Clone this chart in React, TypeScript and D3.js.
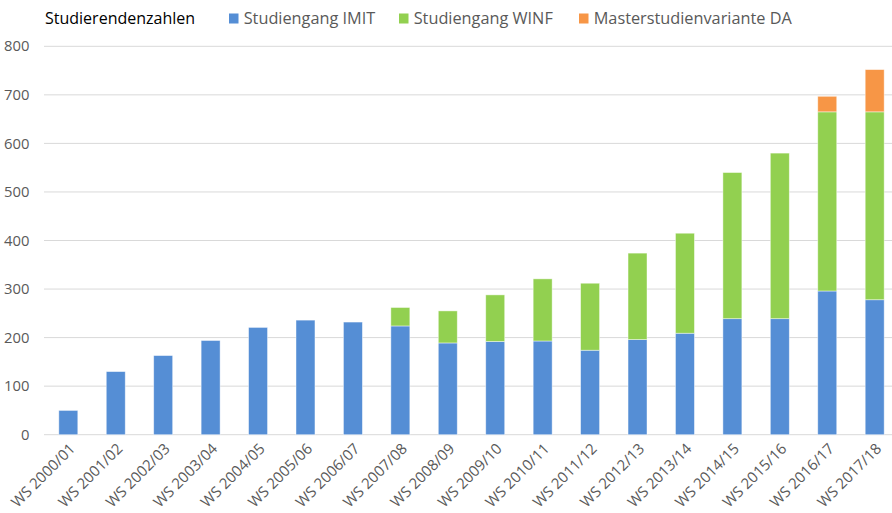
import * as d3 from 'd3';

const categories = [
  'WS 2000/01', 'WS 2001/02', 'WS 2002/03', 'WS 2003/04', 'WS 2004/05', 'WS 2005/06',
  'WS 2006/07', 'WS 2007/08', 'WS 2008/09', 'WS 2009/10', 'WS 2010/11', 'WS 2011/12',
  'WS 2012/13', 'WS 2013/14', 'WS 2014/15', 'WS 2015/16', 'WS 2016/17', 'WS 2017/18',
];
const imit = [50, 130, 163, 194, 221, 236, 232, 224, 189, 192, 193, 174, 196, 209, 239, 239, 296, 278];
const winf = [0, 0, 0, 0, 0, 0, 0, 38, 66, 96, 128, 138, 178, 206, 301, 341, 369, 387];
const da = [0, 0, 0, 0, 0, 0, 0, 0, 0, 0, 0, 0, 0, 0, 0, 0, 32, 87];
const yTicks = [0, 100, 200, 300, 400, 500, 600, 700, 800];

const seriesNames = ['Studiengang IMIT', 'Studiengang WINF', 'Masterstudienvariante DA'];
const colors = ['#558ED5', '#92D050', '#F79646'];

const W = 892;
const H = 513;
const font = 'Open Sans, sans-serif';

export default function App() {
  const rows = categories.map((c, i) => ({ cat: c, s0: imit[i], s1: winf[i], s2: da[i] }));
  const stack = d3.stack<any>().keys(['s0', 's1', 's2'])(rows);

  const x = d3.scaleBand().domain(categories).range([44.6, 898.4]).paddingInner(0.6).paddingOuter(0.3);
  const y = d3.scaleLinear().domain([0, 800]).range([434.7, 46.3]);

  // legend swatch positions
  const legendX = [229, 399, 579];

  return (
    <svg width={W} height={H} style={{ position: 'absolute', left: 0, top: 0, background: '#fff' }}
      fontFamily={font}>
      <rect width={W} height={H} fill="#fff" />
      {/* gridlines */}
      {yTicks.map((t) => (
        <g key={t}>
          <line x1={44} x2={W} y1={y(t)} y2={y(t)} stroke="#D9D9D9" strokeWidth={1} />
          <text x={29.5} y={y(t)} dy="0.35em" textAnchor="end" fontSize={14.8} fill="#595959">{t}</text>
        </g>
      ))}
      {/* bars */}
      {stack.map((layer, si) => (
        <g key={si} fill={colors[si]}>
          {layer.map((d, i) => d[1] - d[0] > 0 ? (
            <rect key={i} x={x(categories[i])} width={x.bandwidth()} y={y(d[1])}
              height={y(d[0]) - y(d[1])} stroke="#fff" strokeOpacity={0.55} strokeWidth={0.8} />
          ) : null)}
        </g>
      ))}
      {/* x labels */}
      {categories.map((c) => {
        const cx = (x(c) as number) + x.bandwidth() / 2 + 4;
        return (
          <text key={c} transform={`translate(${cx},${446}) rotate(-45)`} textAnchor="end"
            dy="0.35em" fontSize={15} fill="#595959">{c}</text>
        );
      })}
      {/* title */}
      <text x={45} y={24} fontSize={16} fill="#000">Studierendenzahlen</text>
      {/* legend */}
      {seriesNames.map((n, i) => (
        <g key={n}>
          <rect x={legendX[i]} y={13.5} width={9.5} height={10} fill={colors[i]} />
          <text x={legendX[i] + 14.7} y={24} fontSize={16.3} fill="#595959">{n}</text>
        </g>
      ))}
    </svg>
  );
}
